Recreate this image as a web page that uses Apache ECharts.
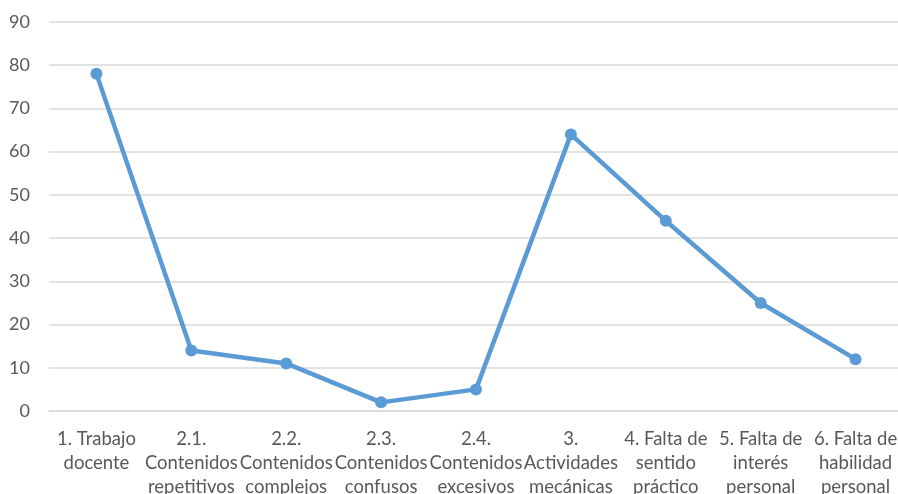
<!DOCTYPE html>
<html>
<head>
<meta charset="utf-8">
<script src="https://cdn.jsdelivr.net/npm/echarts@6/dist/echarts.min.js"></script>
<style>
  html, body { margin: 0; padding: 0; background: #fff; }
  #chart { width: 898px; height: 494px; }
</style>
</head>
<body>
<div id="chart"></div>
<script>
var categories = [
  '1. Trabajo\ndocente',
  '2.1.\nContenidos\nrepetitivos',
  '2.2.\nContenidos\ncomplejos',
  '2.3.\nContenidos\nconfusos',
  '2.4.\nContenidos\nexcesivos',
  '3.\nActividades\nmecánicas',
  '4. Falta de\nsentido\npráctico',
  '5. Falta de\ninterés\npersonal',
  '6. Falta de\nhabilidad\npersonal'
];
var values = [78, 14, 11, 2, 5, 64, 44, 25, 12];

var chart = echarts.init(document.getElementById('chart'));
chart.setOption({
  animation: false,
  grid: { left: 49, top: 22, width: 854, bottom: 83, outerBoundsMode: 'none', containLabel: false },
  xAxis: {
    type: 'category',
    data: categories,
    axisLine: { lineStyle: { color: '#d9d9d9', width: 1.5 } },
    axisTick: { show: false },
    axisLabel: {
      interval: 0,
      color: '#595959',
      fontFamily: 'Lato',
      fontSize: 18.5,
      lineHeight: 24,
      margin: 16
    }
  },
  yAxis: {
    type: 'value',
    min: 0,
    max: 90,
    interval: 10,
    axisLine: { show: false },
    axisTick: { show: false },
    splitLine: { lineStyle: { color: '#d9d9d9', width: 1.5 } },
    axisLabel: {
      color: '#595959',
      fontFamily: 'Lato',
      fontSize: 18,
      margin: 19
    }
  },
  series: [{
    type: 'line',
    data: values,
    symbol: 'circle',
    symbolSize: 12,
    itemStyle: { color: '#5b9bd5' },
    lineStyle: { color: '#5b9bd5', width: 4.5 }
  }]
});
</script>
</body>
</html>
